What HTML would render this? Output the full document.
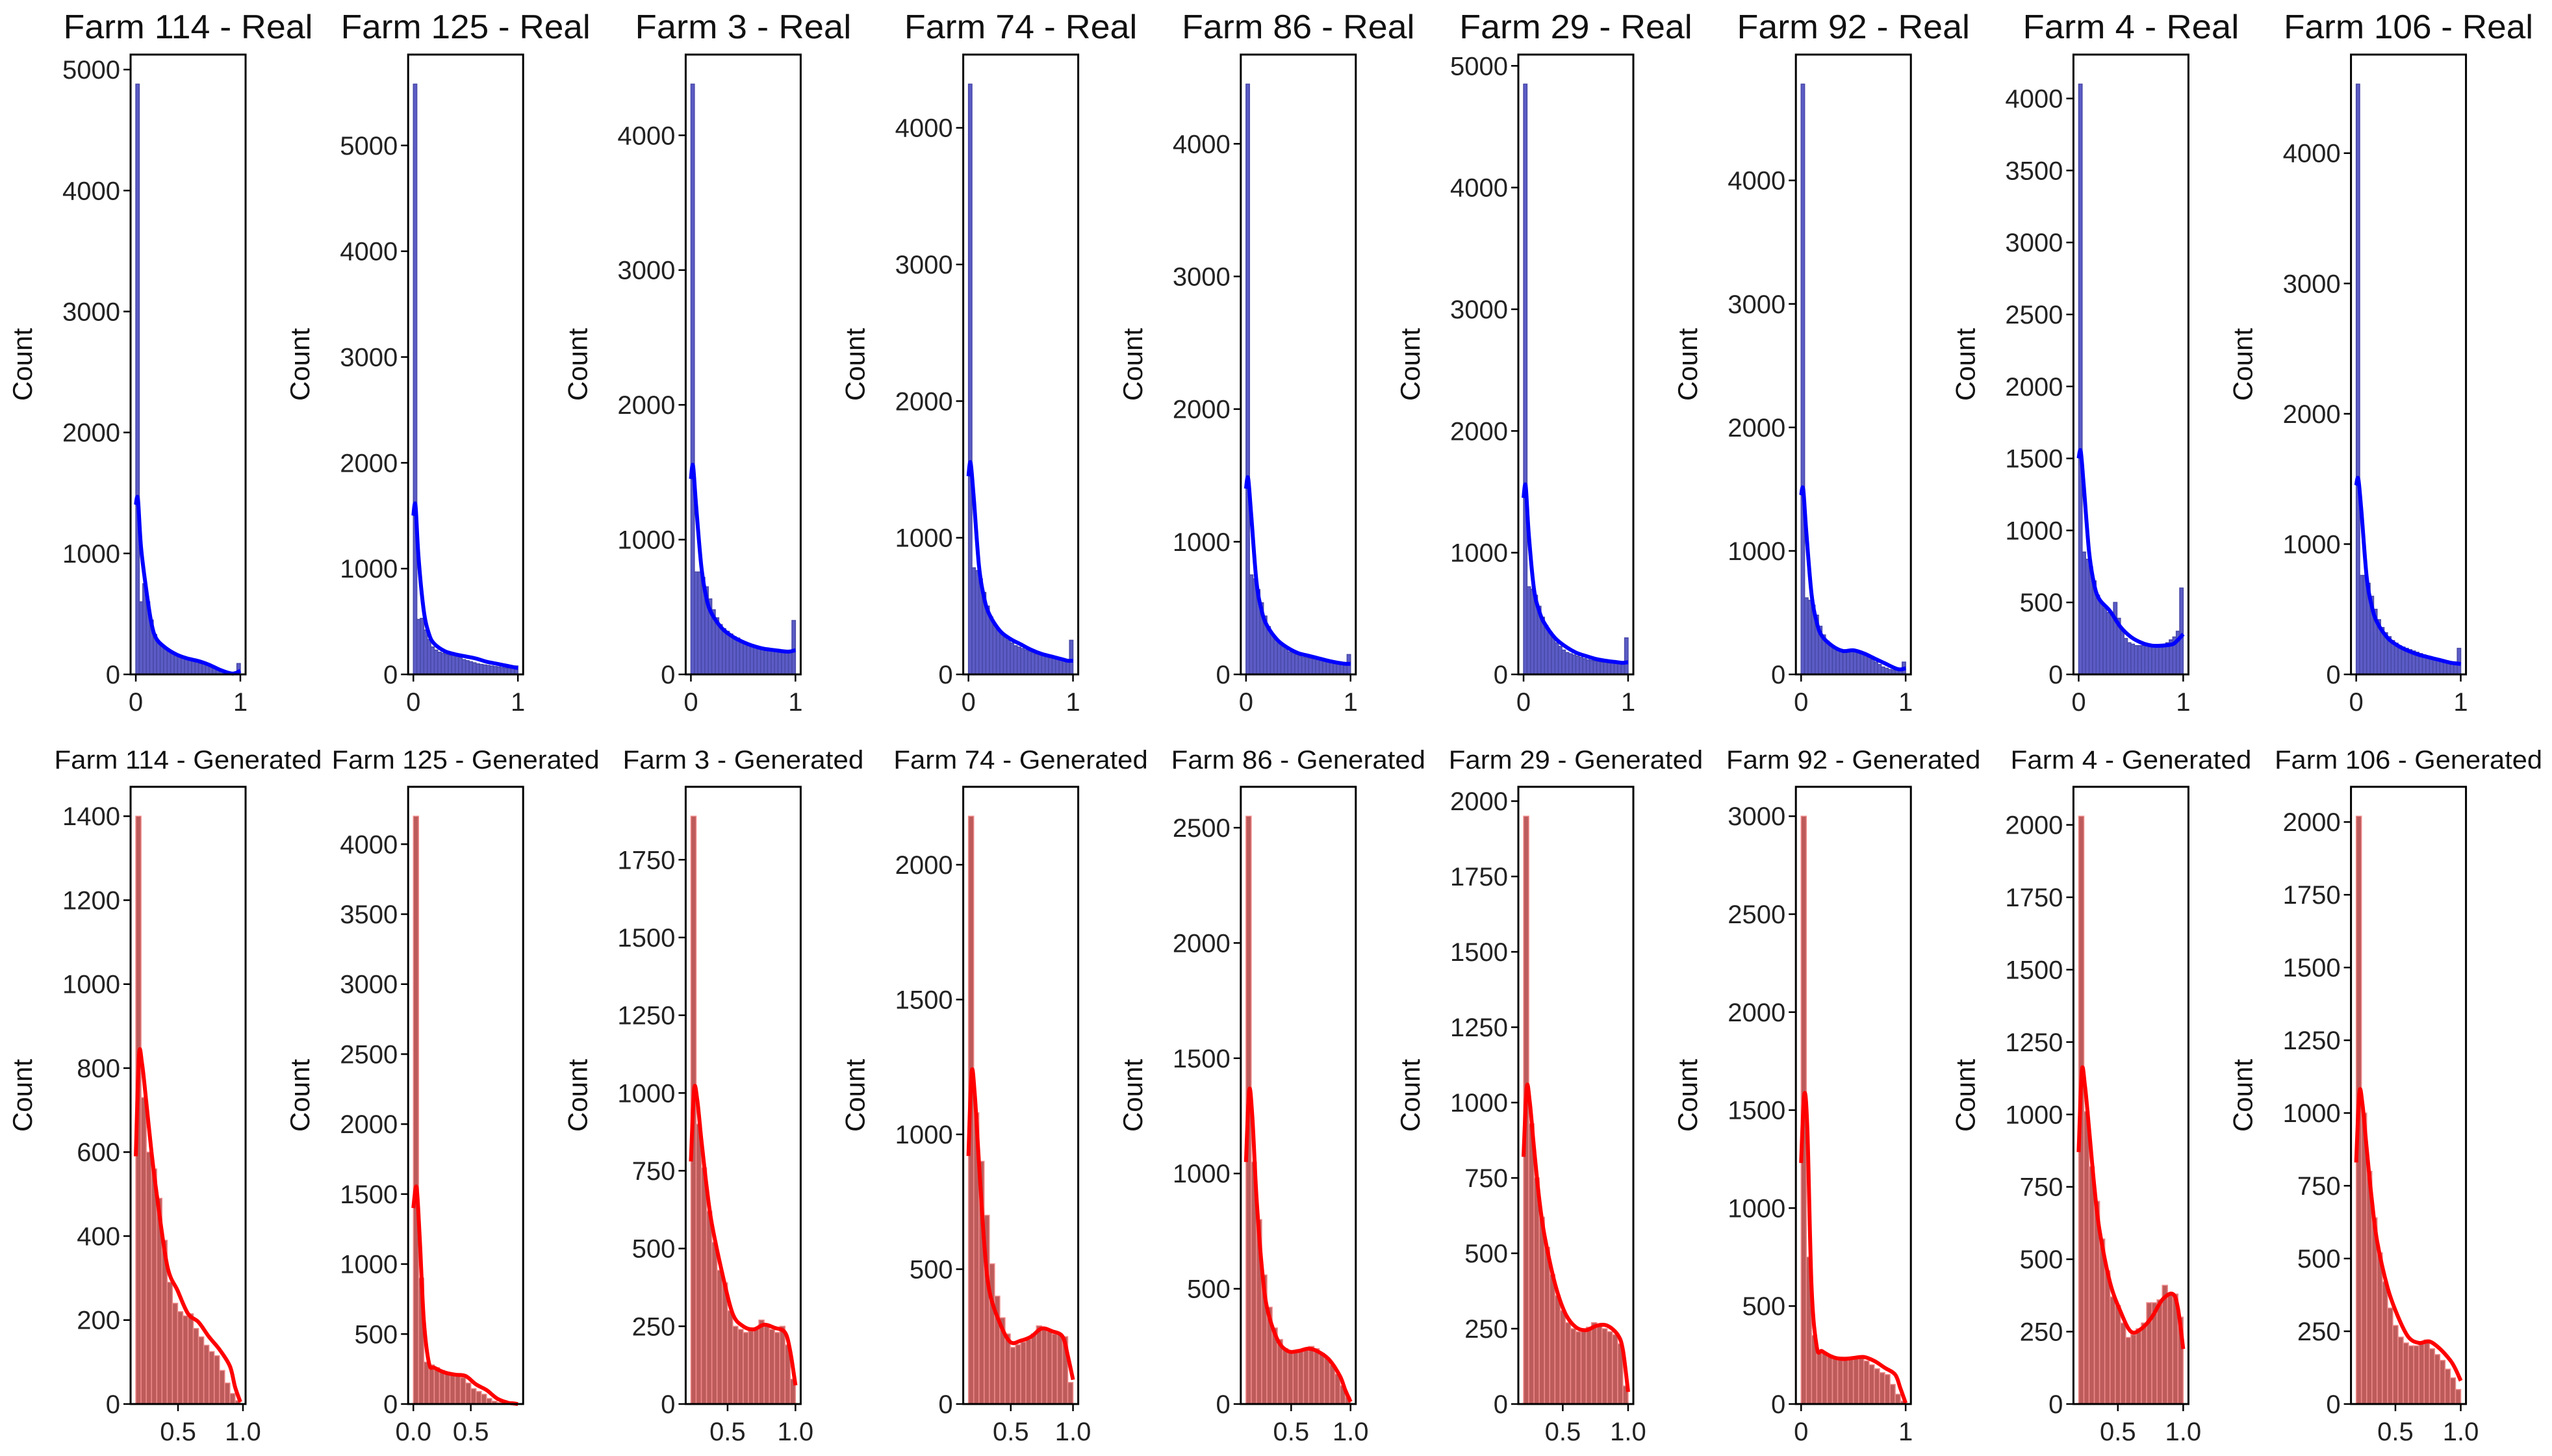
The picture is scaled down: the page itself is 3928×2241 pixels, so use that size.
<!DOCTYPE html>
<html><head><meta charset="utf-8">
<style>
html,body{margin:0;padding:0;background:#fff;}
svg{display:block;font-family:"Liberation Sans",sans-serif;}
</style></head>
<body>
<svg id="chart" width="3928" height="2241" viewBox="0 0 3928 2241" xmlns="http://www.w3.org/2000/svg"></svg>
<script>
// ---- data ----
const farms = ["114","125","3","74","86","29","92","4","106"];
const realBars114 = [4880,600,750,600,450,330,270,240,210,190,175,160,150,140,130,120,110,100,90,85,75,65,50,35,25,15,10,10,15,90];
const realBars125 = [5580,520,530,420,330,260,230,210,200,190,180,200,170,160,140,130,120,110,100,95,90,85,80,75,70,65,60,60,60,80];
const realBars3   = [4380,760,760,720,650,560,480,420,370,340,320,300,280,270,250,240,230,220,210,200,195,190,185,180,175,175,170,170,175,400];
const realBars74  = [4320,780,760,700,600,500,420,360,320,290,270,250,230,210,200,190,180,170,160,150,145,140,135,130,125,120,115,110,110,250];
const realBars86  = [4450,750,720,640,540,440,360,300,260,230,210,190,170,160,150,140,130,125,120,115,110,105,100,95,90,85,80,80,80,150];
const realBars29  = [4850,720,700,650,560,470,400,350,300,260,230,200,180,170,160,150,140,130,120,115,110,105,100,100,95,95,90,90,95,300];
const realBars92  = [4780,620,600,560,480,390,320,270,230,210,200,190,190,200,200,190,180,170,160,140,120,100,80,60,50,40,35,35,40,100];
const realBars4   = [4100,850,800,750,650,550,500,460,430,420,500,390,300,250,220,210,200,200,200,200,200,200,200,200,210,220,240,260,300,600];
const realBars106 = [4530,760,760,700,600,500,420,360,320,290,260,240,220,210,200,190,180,170,160,150,140,130,120,110,100,95,90,90,95,200];
const realKdeX = [0,0.02,0.05,0.1,0.15,0.2,0.3,0.4,0.5,0.6,0.7,0.8,0.9,0.95,1.0];
const realKde114 = [1400,1450,1050,700,420,290,210,160,130,110,80,40,10,10,30];
const realKde125 = [1500,1600,1100,600,380,290,220,190,170,150,120,100,80,70,60];
const realKde3   = [1450,1550,1250,800,560,450,340,280,240,210,190,180,170,170,180];
const realKde74  = [1450,1550,1300,800,560,440,320,260,220,180,150,130,110,100,100];
const realKde86  = [1400,1480,1200,700,480,370,260,200,160,140,120,100,85,80,80];
const realKde29  = [1450,1550,1150,700,520,420,300,230,180,150,125,110,100,95,100];
const realKde92  = [1450,1500,1150,650,420,310,230,190,195,170,130,90,50,40,50];
const realKde4   = [1500,1550,1300,850,620,520,440,330,260,220,200,200,210,240,280];
const realKde106 = [1450,1500,1250,750,520,400,280,220,180,150,130,110,90,85,80];
const realYTicks5000 = [0,1000,2000,3000,4000,5000];
const realYTicks4000 = [0,1000,2000,3000,4000];
const realYTicks4b = [0,500,1000,1500,2000,2500,3000,3500,4000];
const realXTicks = [0,1];
const realXLabels = ["0","1"];

const genRangeMin = [0.175,0.0,0.23,0.16,0.12,0.2,0.0,0.2,0.2];
const genRangeMax = [0.98,0.91,1.0,1.0,1.0,1.0,1.0,1.0,1.0];
const genBars114 = [1400,730,600,560,490,390,290,240,220,210,215,180,160,140,125,115,80,50,25,8];
const genBars125 = [4200,900,300,280,260,240,220,210,200,190,150,110,90,70,40,20,10,5,3,2];
const genBars3   = [1890,900,760,620,520,430,390,300,250,240,230,235,240,270,250,240,230,250,190,80];
const genBars74  = [2180,1080,900,700,520,400,320,260,210,220,230,240,260,290,280,270,260,260,250,80];
const genBars86  = [2550,1050,800,560,420,330,280,240,230,230,235,240,250,240,220,200,170,130,80,30];
const genBars29  = [1950,930,750,620,520,430,360,310,270,250,240,245,255,270,260,250,240,230,200,60];
const genBars92  = [3000,750,350,270,260,250,240,240,240,240,240,240,220,200,180,160,150,100,50,15];
const genBars4   = [2030,1010,820,700,570,460,370,340,280,230,240,260,280,350,350,360,410,380,380,300];
const genBars106 = [2020,1000,800,640,520,420,330,270,230,210,200,200,210,220,190,170,150,120,90,50];
const genKdeT = [0,0.03,0.06,0.1,0.15,0.2,0.3,0.4,0.5,0.6,0.7,0.8,0.9,0.95,1.0];
const genKde114 = [590,830,810,720,600,500,330,270,215,195,160,130,90,40,5];
const genKde125 = [1400,1550,1200,600,290,260,225,210,200,140,100,40,10,5,0];
const genKde3   = [780,1010,980,850,700,580,420,290,250,240,255,245,230,170,60];
const genKde74  = [920,1230,1150,900,600,420,300,230,235,250,280,270,250,180,90];
const genKde86  = [1050,1360,1250,900,600,420,280,230,230,240,225,190,120,60,10];
const genKde29  = [820,1050,1000,850,680,560,400,300,255,245,260,260,230,180,40];
const genKde92  = [1230,1580,1400,600,290,270,240,230,235,240,220,185,150,80,5];
const genKde4   = [870,1150,1100,950,750,600,420,320,250,260,300,360,380,330,190];
const genKde106 = [830,1070,1030,880,700,560,400,300,230,210,215,190,150,120,80];
const genYTicks114 = [0,200,400,600,800,1000,1200,1400];
const genYTicks125 = [0,500,1000,1500,2000,2500,3000,3500,4000];
const genYTicks3   = [0,250,500,750,1000,1250,1500,1750];
const genYTicks74  = [0,500,1000,1500,2000];
const genYTicks86  = [0,500,1000,1500,2000,2500];
const genYTicks250 = [0,250,500,750,1000,1250,1500,1750,2000];
const genYTicks92  = [0,500,1000,1500,2000,2500,3000];
const genXTicksA = [0.5,1.0];
const genXLabelsA = ["0.5","1.0"];
const genXTicks125 = [0.0,0.5];
const genXLabels125 = ["0.0","0.5"];
const genXTicks92 = [0,1];
const genXLabels92 = ["0","1"];

const realBars = [realBars114,realBars125,realBars3,realBars74,realBars86,realBars29,realBars92,realBars4,realBars106];
const realKde = [realKde114,realKde125,realKde3,realKde74,realKde86,realKde29,realKde92,realKde4,realKde106];
const realYTicks = [realYTicks5000,realYTicks5000,realYTicks4000,realYTicks4000,realYTicks4000,realYTicks5000,realYTicks4000,realYTicks4b,realYTicks4000];
const genBars = [genBars114,genBars125,genBars3,genBars74,genBars86,genBars29,genBars92,genBars4,genBars106];
const genKde = [genKde114,genKde125,genKde3,genKde74,genKde86,genKde29,genKde92,genKde4,genKde106];
const genYTicks = [genYTicks114,genYTicks125,genYTicks3,genYTicks74,genYTicks86,genYTicks250,genYTicks92,genYTicks250,genYTicks250];
const genXTicks = [genXTicksA,genXTicks125,genXTicksA,genXTicksA,genXTicksA,genXTicksA,genXTicks92,genXTicksA,genXTicksA];
const genXLabels = [genXLabelsA,genXLabels125,genXLabelsA,genXLabelsA,genXLabelsA,genXLabelsA,genXLabels92,genXLabelsA,genXLabelsA];

// ---- drawing ----
const svg = document.getElementById('chart');
const NS = 'http://www.w3.org/2000/svg';
function mk(tag, attrs, parent){
  const e = document.createElementNS(NS, tag);
  for (const k in attrs) e.setAttribute(k, attrs[k]);
  (parent||svg).appendChild(e);
  return e;
}
function smoothPath(pts){
  let d = 'M'+pts[0][0].toFixed(1)+','+pts[0][1].toFixed(1);
  for (let i=0;i<pts.length-1;i++){
    const p0=pts[Math.max(0,i-1)], p1=pts[i], p2=pts[i+1], p3=pts[Math.min(pts.length-1,i+2)];
    const c1x=p1[0]+(p2[0]-p0[0])/6, c1y=p1[1]+(p2[1]-p0[1])/6;
    const c2x=p2[0]-(p3[0]-p1[0])/6, c2y=p2[1]-(p3[1]-p1[1])/6;
    d+=' C'+c1x.toFixed(1)+','+c1y.toFixed(1)+' '+c2x.toFixed(1)+','+c2y.toFixed(1)+' '+p2[0].toFixed(1)+','+p2[1].toFixed(1);
  }
  return d;
}
const AX_W = 177, PITCH = 427.2, LEFT0 = 201;

function panel(i, row, title, bars, dMin, dMax, kdeXs, kdeVals, yTicks, xTicks, xLabels, fill, edge, lineColor, top, bottom, titleSize, titleLen){
  const left = LEFT0 + PITCH*i;
  const g = mk('g', {});
  
  
  const span = dMax - dMin;
  const xMin = dMin - span*0.05, xMax = dMax + span*0.05;
  let maxV = Math.max(...bars, ...kdeVals);
  const yMax = maxV*1.05;
  const xs = v => left + (v - xMin)/(xMax - xMin)*AX_W;
  const ys = v => bottom - v/yMax*(bottom - top);
  const bw = span / bars.length;
  bars.forEach((b, k) => {
    const x0 = xs(dMin + k*bw), x1 = xs(dMin + (k+1)*bw);
    const r = mk('rect', {x:x0, y:ys(b), width:Math.max(0.5,x1-x0), height:bottom-ys(b), fill:fill, stroke:edge, 'stroke-width':1.5}, g);
    
    
  });
  const pts = kdeXs.map((t, k) => [xs(row==='real' ? t : dMin + t*span), ys(kdeVals[k])]);
  const p = mk('path', {d:smoothPath(pts), fill:'none', stroke:lineColor, 'stroke-width':6, 'stroke-linejoin':'round'}, g);
  
  
  const fr = mk('rect', {x:left, y:top, width:AX_W, height:bottom-top, fill:'none', stroke:'#000', 'stroke-width':3}, g);
  
  
  yTicks.forEach(t => {
    const y = ys(t);
    mk('line', {x1:left-11, x2:left, y1:y, y2:y, stroke:'#000', 'stroke-width':2.5}, g);
    const tx = mk('text', {x:left-16, y:y+14, 'font-size':40, 'text-anchor':'end', fill:'#222'}, g);
    tx.textContent = String(t);
    
    
  });
  xTicks.forEach((t, k) => {
    const x = xs(t);
    mk('line', {x1:x, x2:x, y1:bottom, y2:bottom+11, stroke:'#000', 'stroke-width':2.5}, g);
    const tx = mk('text', {x:x, y:bottom+56, 'font-size':40, 'text-anchor':'middle', fill:'#222'}, g);
    tx.textContent = xLabels[k];
    
    
  });
  const cy = (top+bottom)/2;
  const yt = mk('text', {x:0, y:0, 'font-size':42, 'text-anchor':'middle', fill:'#111', transform:'translate('+(left-152)+','+cy+') rotate(-90)'}, g);
  yt.textContent = 'Count';
  
  
  const tt = mk('text', {x:left+AX_W/2, y:top-(row==='real'?25:28), 'font-size':titleSize, 'text-anchor':'middle', fill:'#111', textLength:titleLen, lengthAdjust:'spacingAndGlyphs'}, g);
  tt.textContent = title;
  
  
}

for (let i=0;i<9;i++){
  const tReal = 'Farm '+farms[i]+' - Real';
  const tGen = 'Farm '+farms[i]+' - Generated';
  panel(i,'real',tReal,realBars[i],0,1,realKdeX,realKde[i],realYTicks[i],realXTicks,realXLabels,'#5c5cc6','#4848a8','#0000ff',84,1038,52,tReal.length*25.6);
  panel(i,'gen',tGen,genBars[i],genRangeMin[i],genRangeMax[i],genKdeT,genKde[i],genYTicks[i],genXTicks[i],genXLabels[i],'#bd5b5b','#f08a8a','#ff0000',1211,2161,40,tGen.length*20.6);
}
</script>
</body></html>
